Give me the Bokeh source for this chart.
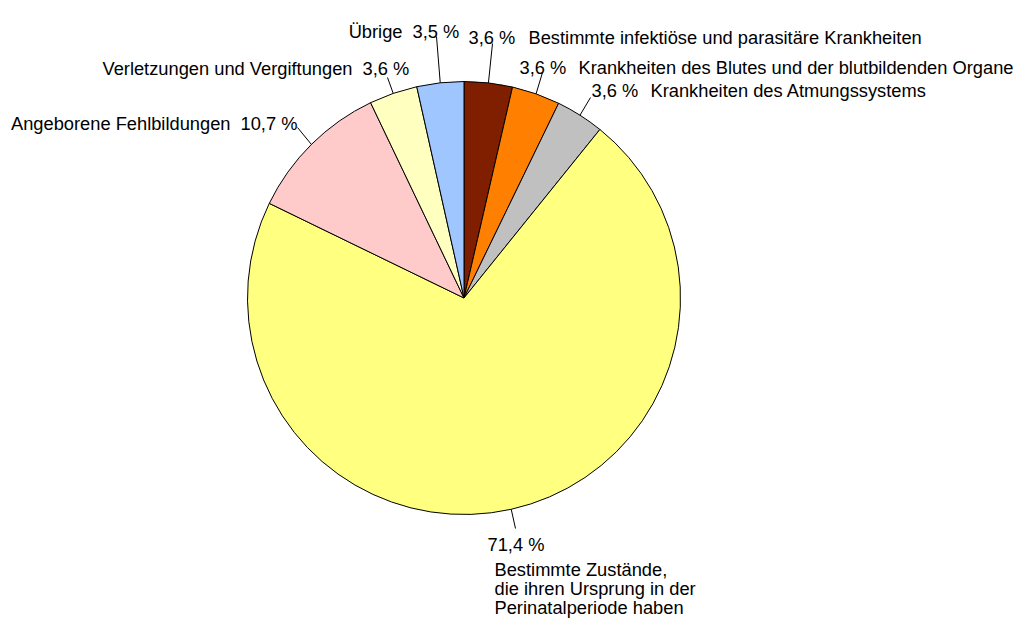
import math
from bokeh.plotting import figure
from bokeh.models import Range1d, ColumnDataSource
from bokeh.core.properties import value
from bokeh.embed import file_html
from bokeh.resources import INLINE

# ---- data ----
categories = [
    "Bestimmte infektiöse und parasitäre Krankheiten",
    "Krankheiten des Blutes und der blutbildenden Organe",
    "Krankheiten des Atmungssystems",
    "Bestimmte Zustände,\ndie ihren Ursprung in der\nPerinatalperiode haben",
    "Angeborene Fehlbildungen",
    "Verletzungen und Vergiftungen",
    "Übrige",
]
values = [3.6, 3.6, 3.6, 71.4, 10.7, 3.6, 3.5]
colors = ["#801F00", "#FF8000", "#C0C0C0", "#FFFF80", "#FFCACA", "#FFFFC0", "#A0C6FF"]

# ---- layout (screen px) ----
OFF = 0
W, H = 1015, 619
PAGE_H = 619
def Y(sy):
    return PAGE_H - sy

cx, cy, R = 463.5, Y(297.5), 216.5

# label layout: (pct_x, pct_align, name_x, name_align, baseline_y, leader_end)
layout = [
    (468, "left", 528, "left", 37, (492, 43)),
    (519, "left", 578, "left", 67, (542, 72)),
    (591, "left", 650, "left", 90, (590, 97)),
    (487, "left", 494, "left", 544, (515, 528)),
    (240, "left", 230, "right", 123, (297, 127)),
    (362, "left", 352, "right", 68, (387, 77)),
    (412, "left", 402, "right", 31, (436, 36)),
]
multi_baselines = [569, 588, 607]

p = figure(width=W, height=H, x_range=Range1d(OFF, OFF + W), y_range=Range1d(Y(OFF + H), Y(OFF)),
           output_backend="svg", toolbar_location=None,
           x_axis_location=None, y_axis_location=None, min_border=0)
p.grid.visible = False
p.outline_line_color = None
p.background_fill_color = "white"

total = sum(values)
starts, ends, mids = [], [], []
cum = 0.0
for v in values:
    a0 = math.pi / 2 - 2 * math.pi * cum / total
    cum += v
    a1 = math.pi / 2 - 2 * math.pi * cum / total
    starts.append(a1)
    ends.append(a0)
    mids.append((a0 + a1) / 2)

src = ColumnDataSource(dict(start=starts, end=ends, color=colors))
p.wedge(x=cx, y=cy, radius=R, start_angle="start", end_angle="end",
        fill_color="color", line_color="black", line_width=1, source=src)

font = value("Liberation Sans")
fs = "18.3px"

for i, v in enumerate(values):
    pct_x, pct_al, name_x, name_al, bl, lend = layout[i]
    m = mids[i]
    sx, sy = cx + R * math.cos(m), cy + R * math.sin(m)
    p.line([sx, lend[0]], [sy, Y(lend[1])], line_color="black", line_width=1)
    pct = f"{v:.1f}".replace(".", ",") + " %"
    p.text(x=[pct_x], y=[Y(bl)], text=[pct], text_align=pct_al, text_baseline="alphabetic",
           text_font=font, text_font_size=fs, text_color="black")
    lines = categories[i].split("\n")
    if len(lines) == 1:
        p.text(x=[name_x], y=[Y(bl)], text=[lines[0]], text_align=name_al,
               text_baseline="alphabetic", text_font=font, text_font_size=fs, text_color="black")
    else:
        for k, ln in enumerate(lines):
            p.text(x=[name_x], y=[Y(multi_baselines[k])], text=[ln], text_align=name_al,
                   text_baseline="alphabetic", text_font=font, text_font_size=fs, text_color="black")

open("out.html", "w").write(file_html(p, INLINE))
